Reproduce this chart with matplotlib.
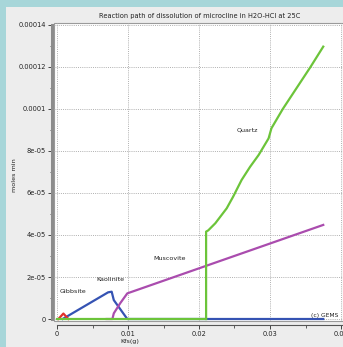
import numpy as np
import matplotlib
matplotlib.use("Agg")
import matplotlib.pyplot as plt
from matplotlib.patches import Rectangle
from matplotlib.ticker import MultipleLocator

# data
quartz_x = [0.0, 0.0210, 0.0210, 0.0213, 0.0223, 0.0239, 0.0248, 0.0260, 0.0272,
            0.0284, 0.0298, 0.0302, 0.0318, 0.0357, 0.0375]
quartz_y = [0.0, 0.0, 4.16e-5, 4.22e-5, 4.56e-5, 5.27e-5, 5.82e-5, 6.62e-5, 7.25e-5,
            7.81e-5, 8.6e-5, 9.08e-5, 1.0e-4, 1.2e-4, 1.297e-4]
musc_x = [0.0070, 0.0078, 0.0080, 0.0089, 0.0099, 0.0375]
musc_y = [0.0, 0.0, 2.7e-6, 7.5e-6, 1.22e-5, 4.48e-5]
kaol_x = [0.0008, 0.0072, 0.0077, 0.0080, 0.0099, 0.0375]
kaol_y = [0.0, 1.27e-5, 1.3e-5, 9.0e-6, 0.0, 0.0]
gibb_x = [0.0002, 0.0009, 0.0016]
gibb_y = [0.0, 2.6e-6, 0.0]

labels = ["Quartz", "Muscovite", "Kaolinite", "Gibbsite"]
label_x = [0.0268, 0.0159, 0.0075, 0.0022]
label_y = [9.0e-5, 2.86e-5, 1.89e-5, 1.3e-5]

W, H = 343, 347
PX = 7100.0  # pixels per unit of Kfs(g)
fig = plt.figure(figsize=(W / 100, H / 100), dpi=100, facecolor="#a7d6d9")
fig.patches.append(Rectangle((6 / W, 0), 1, 1 - 7 / H, transform=fig.transFigure,
                             facecolor="#ededed", edgecolor="none", zorder=-10))

ax = fig.add_axes([54 / W, (H - 321) / H, (W - 54) / W, 298 / H])
ax.set_facecolor("white")
ax.set_xlim(-3 / PX, (W - 57) / PX)
ax.set_ylim(-2 / 294 * 1.4e-4, 1.4e-4 + 2 / 294 * 1.4e-4)

ax.plot(quartz_x[:2], quartz_y[:2], color="#6cc43a", lw=1.6, zorder=3)
ax.plot(kaol_x, kaol_y, color="#3553b3", lw=1.6, zorder=2)
ax.plot(gibb_x, gibb_y, color="#e2302a", lw=1.6, zorder=2)
ax.plot(musc_x, musc_y, color="#aa4cae", lw=1.6, zorder=2)
ax.plot(quartz_x[1:], quartz_y[1:], color="#6cc43a", lw=1.6, zorder=3)

for t, x, y in zip(labels, label_x, label_y):
    ax.text(x, y, t, fontsize=4.6, ha="center", va="center", color="#222222")
ax.text(0.0377, 1.9e-6, "(c) GEMS", fontsize=4.3, ha="center", va="center", color="#222222")

ax.xaxis.set_minor_locator(MultipleLocator(0.005))
ax.yaxis.set_minor_locator(MultipleLocator(1e-5))
ax.set_xticks([0, 0.01, 0.02, 0.03, 0.04])
ax.set_xticklabels(["0", "0.01", "0.02", "0.03", "0.04"])
ax.set_yticks([0, 2e-5, 4e-5, 6e-5, 8e-5, 1e-4, 1.2e-4, 1.4e-4])
ax.set_yticklabels(["0", "2e-05", "4e-05", "6e-05", "8e-05", "0.0001", "0.00012", "0.00014"])
ax.grid(True, which="major", color="#b0b0b0", lw=0.7, linestyle=(0, (1, 1.2)))
ax.set_axisbelow(True)

for s in ["top", "right"]:
    ax.spines[s].set_visible(False)
ax.spines["left"].set_position(("outward", 1.5))
ax.spines["left"].set_linewidth(2.2)
ax.spines["left"].set_color("#8c8c8c")
ax.spines["left"].set_bounds(0, 1.4e-4)
ax.spines["bottom"].set_position(("outward", 3))
ax.spines["bottom"].set_linewidth(0.8)
ax.spines["bottom"].set_color("#555555")
ax.spines["bottom"].set_bounds(0, (W - 57) / PX)
ax.patch.set_edgecolor("#9a9a9a")
ax.patch.set_linewidth(0.8)

ax.tick_params(which="major", length=3, width=0.7, color="#444444", labelsize=4.8,
               labelcolor="#222222", pad=1.5)
ax.tick_params(which="minor", length=1.8, width=0.6, color="#444444")

ax.set_xlabel("Kfs(g)", fontsize=4.6, color="#222222")
ax.xaxis.set_label_coords((130 - 54) / 289, -(341 - 321) / 298, transform=ax.transAxes)
ax.xaxis.label.set_va("center")
ax.set_ylabel("moles min", fontsize=4.6, color="#222222")
ax.yaxis.set_label_coords((14 - 54) / 289, (321 - 175) / 298, transform=ax.transAxes)
ax.yaxis.label.set_va("center")

fig.text(200 / W, 1 - 16 / H, "Reaction path of dissolution of microcline in H2O-HCl at 25C",
         fontsize=4.8, ha="center", va="center", color="#222222")

fig.savefig("out.png", dpi=100, facecolor=fig.get_facecolor())
